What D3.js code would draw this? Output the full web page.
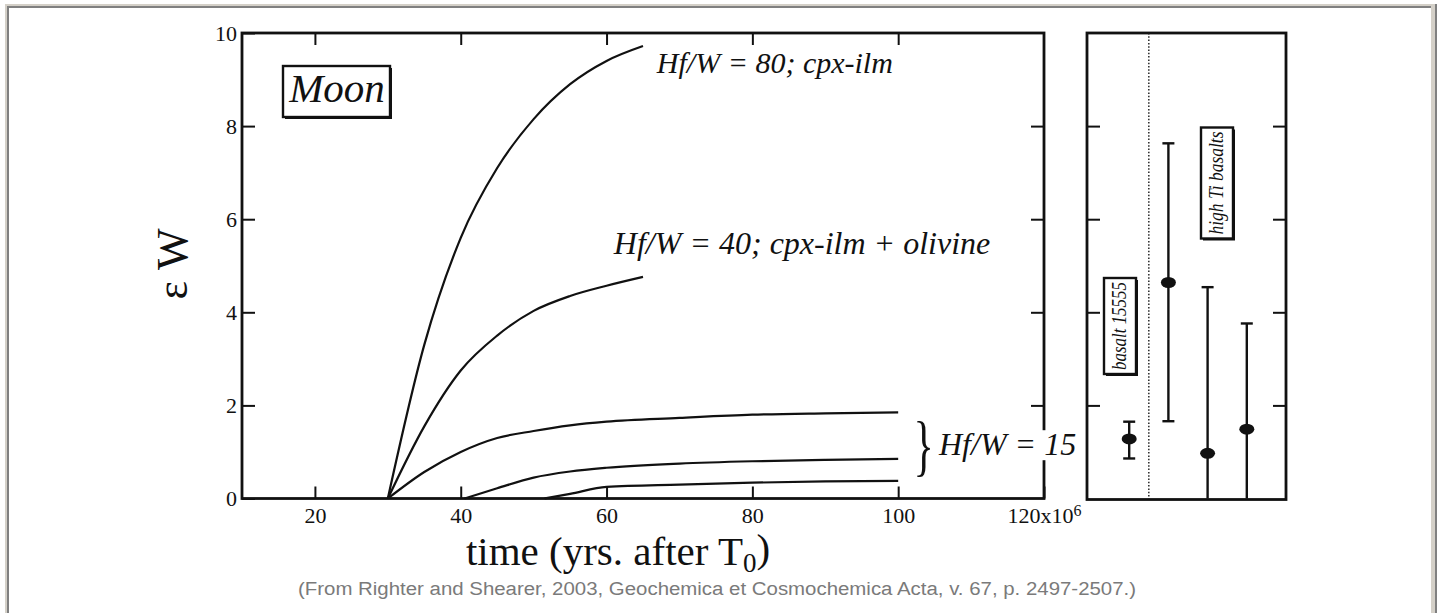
<!DOCTYPE html>
<html>
<head>
<meta charset="utf-8">
<script src="https://cdn.jsdelivr.net/npm/d3@7"></script>
<style>
  body { margin: 0; background: #fff; }
  svg { display: block; }
</style>
</head>
<body>
<svg id="fig"></svg>
<script>
// ---------------- data ----------------
const timeTicks = [20, 40, 60, 80, 100, 120];
const epsTicks = [0, 2, 4, 6, 8, 10];

// model curves: time (Myr after T0) and epsilon W
const hf80Time = [30, 35, 40, 45, 50, 55, 60, 65];
const hf80Eps  = [0, 3.3, 5.6, 7.1, 8.15, 8.9, 9.4, 9.72];

const hf40Time = [30, 35, 40, 45, 50, 55, 60, 65];
const hf40Eps  = [0, 1.55, 2.75, 3.5, 4.03, 4.35, 4.57, 4.76];

const hf15aTime = [30, 35, 40, 45, 50, 55, 60, 70, 80, 90, 100];
const hf15aEps  = [0, 0.57, 1.0, 1.3, 1.45, 1.57, 1.65, 1.73, 1.8, 1.83, 1.85];

const hf15bTime = [40.5, 45, 50, 55, 60, 70, 80, 90, 100];
const hf15bEps  = [0, 0.22, 0.45, 0.58, 0.66, 0.75, 0.8, 0.83, 0.85];

const hf15cTime = [51.5, 55, 60, 70, 80, 90, 100];
const hf15cEps  = [0, 0.1, 0.25, 0.3, 0.34, 0.37, 0.38];

// measured samples (right panel)
const sampleIdx = [1, 2, 3, 4];
const sampleEps = [1.28, 4.64, 0.97, 1.49];
const sampleHi  = [1.65, 7.63, 4.54, 3.76];
const sampleLo  = [0.86, 1.66, -0.6, -0.4];

// ---------------- layout ----------------
const W = 1437, H = 613;
const svg = d3.select('#fig').attr('width', W).attr('height', H);
const serif = '"Liberation Serif", "Times New Roman", serif';

// page frame
svg.append('rect').attr('x', 5).attr('y', 4).attr('width', 1432).attr('height', 620).attr('fill', '#d4d0c8');
svg.append('rect').attr('x', 7).attr('y', 6).attr('width', 1426).attr('height', 620).attr('fill', '#808080');
svg.append('rect').attr('x', 9).attr('y', 8).attr('width', 1422).attr('height', 620).attr('fill', '#fff');
svg.append('rect').attr('x', 1431).attr('y', 6).attr('width', 3).attr('height', 620).attr('fill', '#d4d0c8');
svg.append('rect').attr('x', 1435).attr('y', 4).attr('width', 2).attr('height', 620).attr('fill', '#808080');

const x = d3.scaleLinear().domain([10, 120]).range([242, 1044]);
const y = d3.scaleLinear().domain([0, 10]).range([498.5, 33]).clamp(true);

const plot = svg.append('g');

// axes with inward ticks
const xBottom = d3.axisBottom(x).tickValues(timeTicks).tickSizeInner(-12).tickSizeOuter(0).tickPadding(9)
  .tickFormat(d => d === 120 ? '' : d);
const xTop = d3.axisTop(x).tickValues(timeTicks.slice(0, -1)).tickSizeInner(-12).tickSizeOuter(0).tickFormat('');
const yLeft = d3.axisLeft(y).tickValues(epsTicks).tickSizeInner(-13).tickSizeOuter(0).tickPadding(5);
const yRight = d3.axisRight(y).tickValues([2, 4, 6, 8]).tickSizeInner(-13).tickSizeOuter(0).tickFormat('');

function styleAxis(g) {
  g.select('.domain').remove();
  g.selectAll('line').attr('stroke', '#111').attr('stroke-width', 2);
  g.selectAll('text').attr('fill', '#111').style('font-family', serif).style('font-size', '22px');
}

const gxb = plot.append('g').attr('transform', `translate(0,${y(0)})`).call(xBottom).call(styleAxis);
gxb.selectAll('.tick').filter(d => d === 120).select('text')
  .call(t => {
    t.append('tspan').text('120x10');
    t.append('tspan').attr('dy', '-0.45em').style('font-size', '16px').text('6');
  });
plot.append('g').attr('transform', `translate(0,${y(10)})`).call(xTop).call(styleAxis);
plot.append('g').attr('transform', `translate(${x(10)},0)`).call(yLeft).call(styleAxis);
plot.append('g').attr('transform', `translate(${x(120)},0)`).call(yRight).call(styleAxis);

plot.append('rect')
  .attr('x', x(10)).attr('y', y(10))
  .attr('width', x(120) - x(10)).attr('height', y(0) - y(10))
  .attr('fill', 'none').attr('stroke', '#111').attr('stroke-width', 2.8);

// curves
const line = d3.line().x(d => x(d[0])).y(d => y(d[1])).curve(d3.curveMonotoneX);
const curves = [
  d3.zip(hf80Time, hf80Eps),
  d3.zip(hf40Time, hf40Eps),
  d3.zip(hf15aTime, hf15aEps),
  d3.zip(hf15bTime, hf15bEps),
  d3.zip(hf15cTime, hf15cEps)
];
plot.selectAll('path.curve').data(curves).enter().append('path')
  .attr('class', 'curve')
  .attr('d', line)
  .attr('fill', 'none').attr('stroke', '#111').attr('stroke-width', 2.2);

// boxed label with drop shadow
function shadowBox(g, bx, by, bw, bh) {
  g.append('rect').attr('x', bx + 2).attr('y', by + 2).attr('width', bw).attr('height', bh).attr('fill', '#111');
  g.append('rect').attr('x', bx).attr('y', by).attr('width', bw).attr('height', bh)
    .attr('fill', '#fff').attr('stroke', '#111').attr('stroke-width', 2.4);
}

// Moon tag
const moon = plot.append('g');
shadowBox(moon, 283, 66, 107, 51);
moon.append('text').attr('x', 337).attr('y', 102).attr('text-anchor', 'middle')
  .style('font-family', serif).style('font-style', 'italic').style('font-size', '41px').attr('fill', '#111')
  .text('Moon');

// curve labels
function label(tx, ty, s, fs) {
  return plot.append('text').attr('x', tx).attr('y', ty).attr('fill', '#111')
    .style('font-family', serif).style('font-style', 'italic').style('font-size', fs + 'px')
    .text(s);
}
label(x(66.9), y(9.15), 'Hf/W = 80; cpx-ilm', 30);
label(x(61.0), y(5.25), 'Hf/W = 40; cpx-ilm + olivine', 32);

// brace + Hf/W = 15 (white backing interrupts the frame)
plot.append('text').attr('transform', `translate(${x(102.1)},${y(0.66)}) scale(0.62,1)`)
  .style('font-family', serif).style('font-size', '68px').attr('fill', '#111').text('}');
const l15 = label(x(105.6), y(0.93), 'Hf/W = 15', 32);
const bb = l15.node().getBBox();
plot.insert('rect', () => l15.node())
  .attr('x', bb.x - 2).attr('y', bb.y + 4).attr('width', bb.width + 4).attr('height', bb.height - 6)
  .attr('fill', '#fff');

// axis titles
svg.append('text')
  .attr('transform', `translate(187,264) rotate(-90)`)
  .attr('text-anchor', 'middle')
  .style('font-family', serif).style('font-size', '44px').attr('fill', '#111')
  .text('\u03b5 W');

const xt = svg.append('text').attr('x', 618).attr('y', 565).attr('text-anchor', 'middle')
  .style('font-family', serif).style('font-size', '41px').attr('fill', '#111');
xt.append('tspan').text('time (yrs. after T');
xt.append('tspan').attr('dy', '0.25em').style('font-size', '27px').text('0');
xt.append('tspan').attr('dy', '-0.25em').text(')');

// ---------------- right panel ----------------
const px = d3.scaleLinear().domain([0, 5]).range([1090, 1286]);
const panel = svg.append('g');

panel.append('line')
  .attr('x1', px(1.5)).attr('x2', px(1.5)).attr('y1', y(10)).attr('y2', y(0))
  .attr('stroke', '#333').attr('stroke-width', 1.6).attr('stroke-dasharray', '1.5,1.8');

panel.append('g').attr('transform', `translate(${px(0) - 3},0)`)
  .call(d3.axisLeft(y).tickValues([2, 4, 6, 8]).tickSizeInner(-13).tickSizeOuter(0).tickFormat(''))
  .call(styleAxis);
panel.append('g').attr('transform', `translate(${px(5)},0)`)
  .call(d3.axisRight(y).tickValues([2, 4, 6, 8]).tickSizeInner(-13).tickSizeOuter(0).tickFormat(''))
  .call(styleAxis);
panel.append('rect')
  .attr('x', px(0) - 3).attr('y', y(10)).attr('width', px(5) - px(0) + 3).attr('height', y(0) - y(10) + 1)
  .attr('fill', 'none').attr('stroke', '#111').attr('stroke-width', 2.8);

const bars = panel.selectAll('g.bar').data(sampleIdx).enter().append('g').attr('class', 'bar');
bars.append('line')
  .attr('x1', d => px(d)).attr('x2', d => px(d))
  .attr('y1', (d, i) => y(sampleHi[i])).attr('y2', (d, i) => y(sampleLo[i]))
  .attr('stroke', '#111').attr('stroke-width', 2.4);
bars.append('line')
  .attr('x1', d => px(d) - 6).attr('x2', d => px(d) + 6)
  .attr('y1', (d, i) => y(sampleHi[i])).attr('y2', (d, i) => y(sampleHi[i]))
  .attr('stroke', '#111').attr('stroke-width', 2.4);
bars.filter((d, i) => sampleLo[i] >= 0).append('line')
  .attr('x1', d => px(d) - 6).attr('x2', d => px(d) + 6)
  .attr('y1', d => y(sampleLo[sampleIdx.indexOf(d)])).attr('y2', d => y(sampleLo[sampleIdx.indexOf(d)]))
  .attr('stroke', '#111').attr('stroke-width', 2.4);
bars.append('ellipse')
  .attr('cx', d => px(d)).attr('cy', (d, i) => y(sampleEps[i]))
  .attr('rx', 7.5).attr('ry', 5.5).attr('fill', '#111');

// rotated tags
function tag(cx, cy, bw, bh, s, len) {
  const g = panel.append('g');
  shadowBox(g, cx - bw / 2, cy - bh / 2, bw, bh);
  g.append('text')
    .attr('transform', `translate(${cx + 6},${cy}) rotate(-90)`)
    .attr('text-anchor', 'middle')
    .attr('textLength', len).attr('lengthAdjust', 'spacingAndGlyphs')
    .style('font-family', serif).style('font-style', 'italic').style('font-size', '20px').attr('fill', '#111')
    .text(s);
}
tag(1120, 326, 32, 96, 'basalt 15555', 88);
tag(1217, 183, 32, 111, 'high Ti basalts', 103);

// caption
svg.append('text').attr('x', 717).attr('y', 595).attr('text-anchor', 'middle')
  .attr('textLength', 838).attr('lengthAdjust', 'spacingAndGlyphs')
  .style('font-family', '"Liberation Sans", Arial, sans-serif').style('font-size', '18px').attr('fill', '#7a7a7a')
  .text('(From Righter and Shearer, 2003, Geochemica et Cosmochemica Acta, v. 67, p. 2497-2507.)');
</script>
</body>
</html>
